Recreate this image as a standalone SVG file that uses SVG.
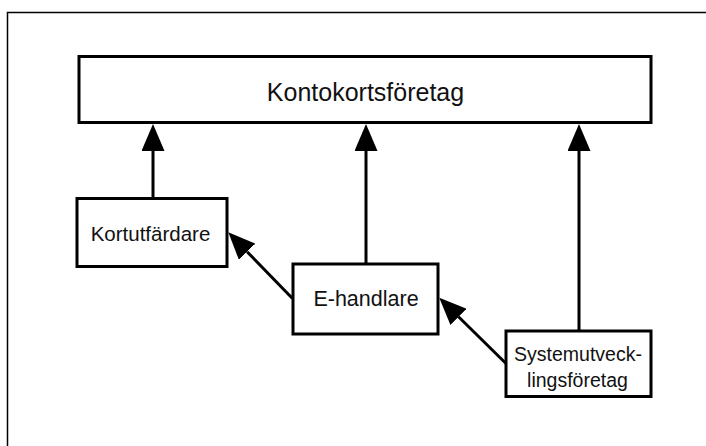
<svg xmlns="http://www.w3.org/2000/svg" width="706" height="446" viewBox="0 0 706 446">
  <style>
    .box { fill: #ffffff; stroke: #000000; stroke-width: 3; }
    .lbl { font-family: "Liberation Sans", Arial, sans-serif; fill: #111111; text-anchor: middle; }
    .edge { fill: none; stroke: #000000; stroke-width: 3; marker-end: url(#head); }
  </style>
  <defs>
    <!-- solid triangular head; starts where the line stops -->
    <marker id="head" markerUnits="userSpaceOnUse" viewBox="0 0 27 23" refX="0" refY="11.5" markerWidth="27" markerHeight="23" orient="auto">
      <path d="M0,0 L27,11.5 L0,23 z" fill="#000000"/>
    </marker>
  </defs>

  <rect width="706" height="446" fill="#ffffff"/>
  <!-- outer frame, open to the right and bottom -->
  <rect x="7.5" y="12.5" width="720" height="460" fill="none" stroke="#000000" stroke-width="1.5"/>

  <g id="edges">
    <line class="edge" x1="153" y1="198.5" x2="153" y2="151"/>
    <line class="edge" x1="366" y1="264" x2="366" y2="151"/>
    <line class="edge" x1="579" y1="331" x2="579" y2="151"/>
    <line class="edge" x1="292.5" y1="298.5" x2="247.1" y2="251.7"/>
    <line class="edge" x1="506" y1="363.5" x2="458.5" y2="316.8"/>
  </g>

  <g id="kontokortsforetag">
    <rect class="box" x="79" y="56.5" width="572" height="66"/>
    <text class="lbl" x="365.5" y="100.5" font-size="25">Kontokortsföretag</text>
  </g>

  <g id="kortutfardare">
    <rect class="box" x="77" y="198.5" width="150" height="68"/>
    <text class="lbl" x="150.5" y="241" font-size="20.5">Kortutfärdare</text>
  </g>

  <g id="ehandlare">
    <rect class="box" x="293" y="264" width="145" height="70"/>
    <text class="lbl" x="366" y="306" font-size="21.5">E-handlare</text>
  </g>

  <g id="systemutvecklingsforetag">
    <rect class="box" x="506" y="331" width="145" height="65.5"/>
    <text class="lbl" x="578" y="360.5" font-size="19.5">Systemutveck-</text>
    <text class="lbl" x="577.5" y="386.5" font-size="19.5">lingsföretag</text>
  </g>
</svg>
